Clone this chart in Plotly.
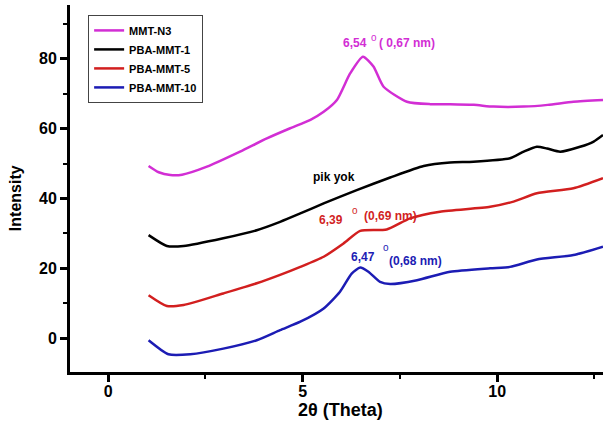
import plotly.graph_objects as go

# ---- data ----
mmt_x = [1.04, 1.3, 1.6, 1.9, 2.54, 3.39, 4.08, 4.68, 5.2, 5.54, 5.88, 6.22, 6.55, 6.82, 7.08, 7.68, 8.28, 8.79, 9.4, 9.91, 10.68, 11.3, 11.96, 12.72]
mmt_y = [49.3, 47.5, 46.7, 46.8, 49.1, 53.4, 57.2, 60.1, 62.5, 64.8, 68.2, 75.8, 80.6, 77.8, 72.0, 67.7, 67.0, 67.0, 66.8, 66.3, 66.3, 66.8, 67.7, 68.2]

pba1_x = [1.04, 1.51, 1.94, 2.96, 3.82, 4.42, 4.94, 5.54, 6.39, 7.25, 8.11, 8.79, 9.39, 10.33, 10.68, 11.02, 11.28, 11.62, 12.13, 12.48, 12.72]
pba1_y = [29.5, 26.4, 26.4, 28.6, 30.9, 33.3, 35.7, 38.6, 42.4, 46.0, 49.3, 50.3, 50.5, 51.5, 53.4, 54.8, 54.3, 53.4, 54.8, 56.3, 58.2]

pba5_x = [1.04, 1.51, 1.94, 2.96, 3.82, 4.42, 4.94, 5.54, 6.05, 6.48, 7.16, 7.76, 8.53, 9.82, 10.42, 11.02, 11.96, 12.72]
pba5_y = [12.3, 9.2, 9.5, 12.8, 15.7, 18.1, 20.4, 23.3, 27.1, 30.7, 31.1, 34.3, 36.2, 37.6, 39.1, 41.5, 42.9, 45.8]

pba10_x = [1.04, 1.55, 2.11, 2.96, 3.82, 4.42, 4.94, 5.54, 5.96, 6.26, 6.48, 6.69, 6.99, 7.25, 7.94, 8.79, 9.82, 10.33, 11.02, 11.96, 12.72]
pba10_y = [-0.6, -4.6, -4.6, -3.0, -0.6, 2.3, 4.7, 8.5, 13.3, 18.5, 20.2, 19.0, 16.1, 15.5, 16.6, 19.0, 20.0, 20.4, 22.5, 23.8, 26.2]

series_names = ["MMT-N3", "PBA-MMT-1", "PBA-MMT-5", "PBA-MMT-10"]
series_colors = ["#d22ed4", "#000000", "#d21f1f", "#1c1cb4"]

x_ticks = [0, 5, 10]
y_ticks = [0, 20, 40, 60, 80]

FONT = "Liberation Sans, Arial, sans-serif"

fig = go.Figure()
for name, color, xs, ys in zip(series_names, series_colors,
                               [mmt_x, pba1_x, pba5_x, pba10_x],
                               [mmt_y, pba1_y, pba5_y, pba10_y]):
    fig.add_trace(go.Scatter(x=xs, y=ys, mode="lines", name=name,
                             line=dict(color=color, width=2.5, shape="spline", smoothing=0.6)))

def ann(x, y, text, color, size=12, anchor="left", weight="bold"):
    fig.add_annotation(x=x, y=y, xref="x", yref="y", text=text, showarrow=False,
                       xanchor=anchor, yanchor="middle", borderpad=0,
                       font=dict(family=FONT, size=size, color=color, weight=weight))

c_m, c_k, c_r, c_b = series_colors
ann(6.02, 84.5, "6,54", c_m)
ann(6.84, 86.0, "o", c_m, size=10, anchor="center", weight="normal")
ann(6.94, 84.5, "( 0,67 nm)", c_m)
ann(5.24, 46.1, "pik yok", c_k)
ann(5.40, 33.8, "6,39", c_r)
ann(6.35, 36.6, "o", c_r, size=10, anchor="center", weight="normal")
ann(6.56, 35.0, "(0,69 nm)", c_r)
ann(6.22, 23.2, "6,47", c_b)
ann(7.15, 26.0, "o", c_b, size=10, anchor="center", weight="normal")
ann(7.20, 22.1, "(0,68 nm)", c_b)

# axis titles
fig.add_annotation(x=-0.103, y=0.474, xref="paper", yref="paper", text="Intensity",
                   showarrow=False, textangle=-90, xanchor="center", yanchor="middle",
                   font=dict(family=FONT, size=16, color="black", weight="bold"))
fig.add_annotation(x=0.508, y=-0.103, xref="paper", yref="paper", text="2θ (Theta)",
                   showarrow=False, xanchor="center", yanchor="middle",
                   font=dict(family=FONT, size=18, color="black", weight="bold"))

axis_common = dict(showgrid=False, zeroline=False, showline=True, linecolor="black",
                   linewidth=3, ticks="outside", ticklen=7, tickwidth=3, tickcolor="black",
                   tickfont=dict(family=FONT, size=16, color="black", weight="bold"))

fig.update_xaxes(range=[-0.98, 12.72], tickvals=x_ticks, ticklabelstandoff=-4,
                 minor=dict(dtick=2.5, tick0=0, ticks="outside", ticklen=4, tickwidth=2, tickcolor="black"),
                 **axis_common)
fig.update_yaxes(range=[-9.7, 95.4], tickvals=y_ticks,
                 minor=dict(dtick=10, tick0=0, ticks="outside", ticklen=4, tickwidth=2, tickcolor="black"),
                 **axis_common)

fig.update_layout(
    width=603, height=423,
    margin=dict(l=70, r=0, t=5, b=51),
    plot_bgcolor="white", paper_bgcolor="white",
    showlegend=True,
    legend=dict(x=0.034, y=0.973, xanchor="left", yanchor="top",
                bordercolor="#444444", borderwidth=1, bgcolor="white",
                font=dict(family=FONT, size=11, color="black", weight="bold"),
                tracegroupgap=0, itemwidth=30),
)

fig.write_html("out.html")
